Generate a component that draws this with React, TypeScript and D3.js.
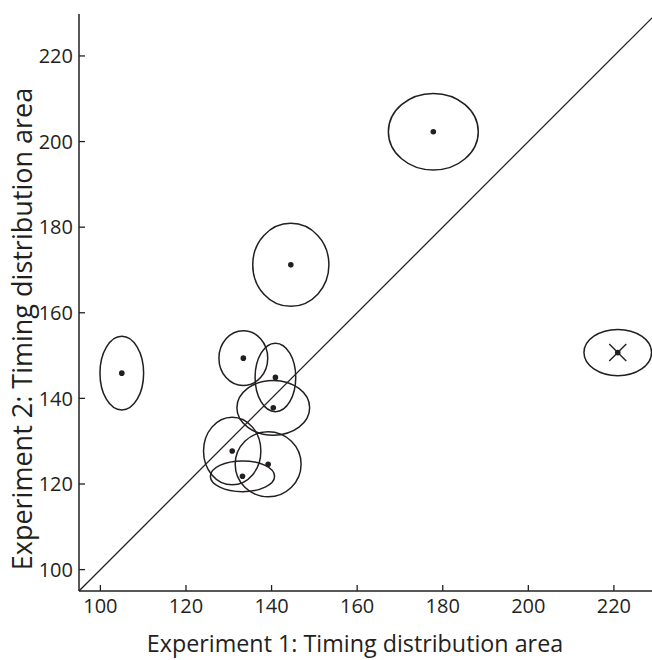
import React from "react";
import * as d3 from "d3";

const W = 652;
const H = 660;

// one entry per subject: mean timing-distribution area in each experiment,
// plus the spread (ellipse half-widths) along each axis
const expt1 = [105.0, 133.4, 140.9, 140.4, 130.8, 139.2, 133.2, 144.5, 177.8, 220.9];
const expt2 = [145.9, 149.4, 144.9, 137.8, 127.7, 124.6, 121.8, 171.2, 202.3, 150.7];
const spread1 = [5.1, 5.7, 4.75, 8.5, 6.7, 7.7, 7.5, 8.9, 10.5, 7.9];
const spread2 = [8.6, 6.4, 8.0, 6.4, 7.9, 7.6, 3.6, 9.7, 8.95, 5.4];
const excluded = [false, false, false, false, false, false, false, false, false, true];

const xTicks = [100, 120, 140, 160, 180, 200, 220];
const yTicks = [100, 120, 140, 160, 180, 200, 220];

const INK = "#231f20";
const FONT = "'Open Sans', sans-serif";

const margin = {left: 79, top: 14, bottom: 69};

const x = d3.scaleLinear().domain([95, 228.9]).range([margin.left, W]);
const y = d3.scaleLinear().domain([95, 229.8]).range([H - margin.bottom, margin.top]);

export default function App() {
    const x0 = margin.left;
    const y0 = H - margin.bottom;
    const diagEnd = 228.9;

    return (
        <svg width={W} height={H} style={{position: "absolute", left: 0, top: 0}}>
            <rect width={W} height={H} fill="white" />

            {/* identity line */}
            <line x1={x(95)} y1={y(95)} x2={x(diagEnd)} y2={y(diagEnd)}
                  stroke={INK} strokeWidth={1.3} />

            {/* ellipses and means */}
            {expt1.map((v, i) => {
                const cx = x(v);
                const cy = y(expt2[i]);
                const rx = x(v + spread1[i]) - cx;
                const ry = cy - y(expt2[i] + spread2[i]);
                return (
                    <g key={i}>
                        <ellipse cx={cx} cy={cy} rx={rx} ry={ry}
                                 fill="none" stroke={INK} strokeWidth={1.5} />
                        <circle cx={cx} cy={cy} r={2.8} fill={INK} />
                        {excluded[i] && (
                            <g stroke={INK} strokeWidth={1.4}>
                                <line x1={cx - 8.5} y1={cy - 8.5} x2={cx + 8.5} y2={cy + 8.5} />
                                <line x1={cx - 8.5} y1={cy + 8.5} x2={cx + 8.5} y2={cy - 8.5} />
                            </g>
                        )}
                    </g>
                );
            })}

            {/* axes */}
            <line x1={x0} y1={margin.top} x2={x0} y2={y0} stroke={INK} strokeWidth={1.5} />
            <line x1={x0} y1={y0} x2={W} y2={y0} stroke={INK} strokeWidth={1.5} />

            {xTicks.map((t) => (
                <g key={"x" + t}>
                    <line x1={x(t)} x2={x(t)} y1={y0} y2={y0 - 6} stroke={INK} strokeWidth={1.3} />
                    <text x={x(t)} y={613} textAnchor="middle" fontFamily={FONT}
                          fontSize={20} fill={INK}>{t}</text>
                </g>
            ))}

            {yTicks.map((t) => (
                <g key={"y" + t}>
                    <line x1={x0} x2={x0 + 6} y1={y(t)} y2={y(t)} stroke={INK} strokeWidth={1.3} />
                    <text x={x0 - 6} y={y(t)} dy="0.36em" textAnchor="end" fontFamily={FONT}
                          fontSize={20} fill={INK}>{t}</text>
                </g>
            ))}

            <text x={355} y={652} textAnchor="middle" fontFamily={FONT}
                  fontSize={23.3} fill={INK}>Experiment 1: Timing distribution area</text>
            <text transform="translate(32,329) rotate(-90)"
                  textAnchor="middle" fontFamily={FONT} fontSize={27} fill={INK}>
                Experiment 2: Timing distribution area
            </text>
        </svg>
    );
}
